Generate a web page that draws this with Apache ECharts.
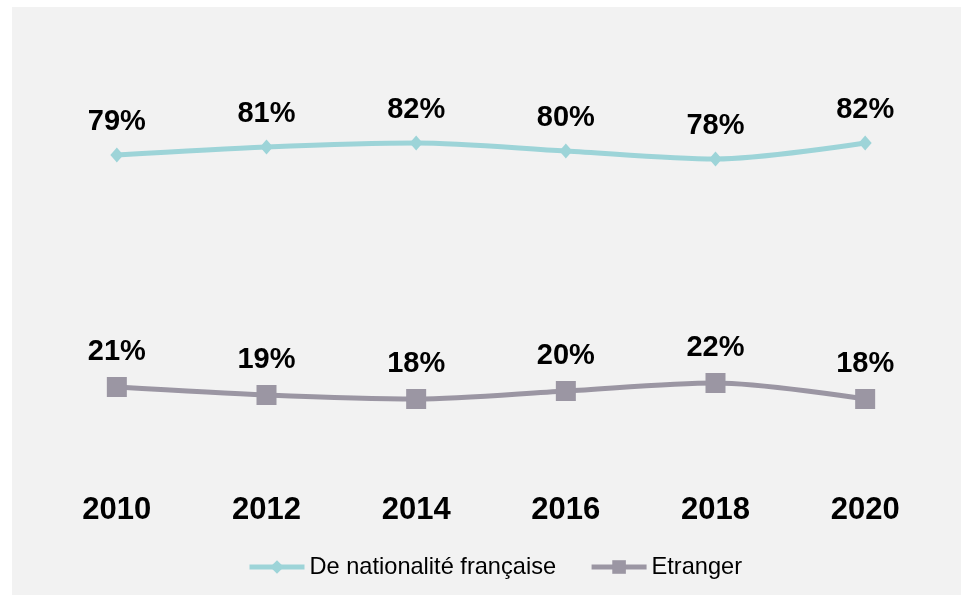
<!DOCTYPE html>
<html>
<head>
<meta charset="utf-8">
<script src="https://cdn.jsdelivr.net/npm/echarts@6/dist/echarts.min.js"></script>
<style>
  html, body { margin: 0; padding: 0; background: #ffffff; }
  .chart-box {
    position: absolute;
    left: 12px;
    top: 7px;
    width: 949px;
    height: 588px;
    background: #f2f2f2;
  }
  #main { position: absolute; left: 0; top: 0; width: 961px; height: 597px; }
</style>
</head>
<body>
<div class="chart-box"></div>
<div id="main"></div>
<script>
const years = ['2010', '2012', '2014', '2016', '2018', '2020']
const francais = [79, 81, 82, 80, 78, 82]
const etranger = [21, 19, 18, 20, 22, 18]

const font = 'Arial, "Liberation Sans", sans-serif'
const myChart = echarts.init(document.getElementById('main'))

myChart.setOption({
  animation: false,
  backgroundColor: 'transparent',
  color: ['#9dd4d8', '#9b96a3'],
  grid: {
    left: 42,
    right: 21,
    top: 71,
    bottom: 126,
  },
  legend: {
    left: 242,
    top: 550,
    itemWidth: 55,
    itemHeight: 17,
    itemGap: 33,
    lineStyle: { width: 5 },
    textStyle: {
      fontFamily: font,
      fontSize: 23.6,
      color: '#000',
    },
    data: ['De nationalité française', 'Etranger'],
  },
  xAxis: {
    type: 'category',
    data: years,
    boundaryGap: true,
    axisLine: { show: false },
    axisTick: { show: false },
    axisLabel: {
      margin: 24,
      fontFamily: font,
      fontSize: 31,
      fontWeight: 'bold',
      color: '#000',
    },
  },
  yAxis: {
    type: 'value',
    min: 0,
    max: 100,
    show: false,
  },
  series: [
    {
      name: 'De nationalité française',
      type: 'line',
      smooth: 0.3,
      symbol: 'diamond',
      symbolSize: [13, 15],
      lineStyle: { width: 5 },
      label: {
        show: true,
        position: 'top',
        distance: 11,
        formatter: '{c}%',
        fontFamily: font,
        fontSize: 29,
        fontWeight: 'bold',
        color: '#000',
      },
      data: francais,
    },
    {
      name: 'Etranger',
      type: 'line',
      smooth: 0.3,
      symbol: 'rect',
      symbolSize: 20,
      lineStyle: { width: 5 },
      label: {
        show: true,
        position: 'top',
        distance: 11,
        formatter: '{c}%',
        fontFamily: font,
        fontSize: 29,
        fontWeight: 'bold',
        color: '#000',
      },
      data: etranger,
    },
  ],
})
</script>
</body>
</html>
